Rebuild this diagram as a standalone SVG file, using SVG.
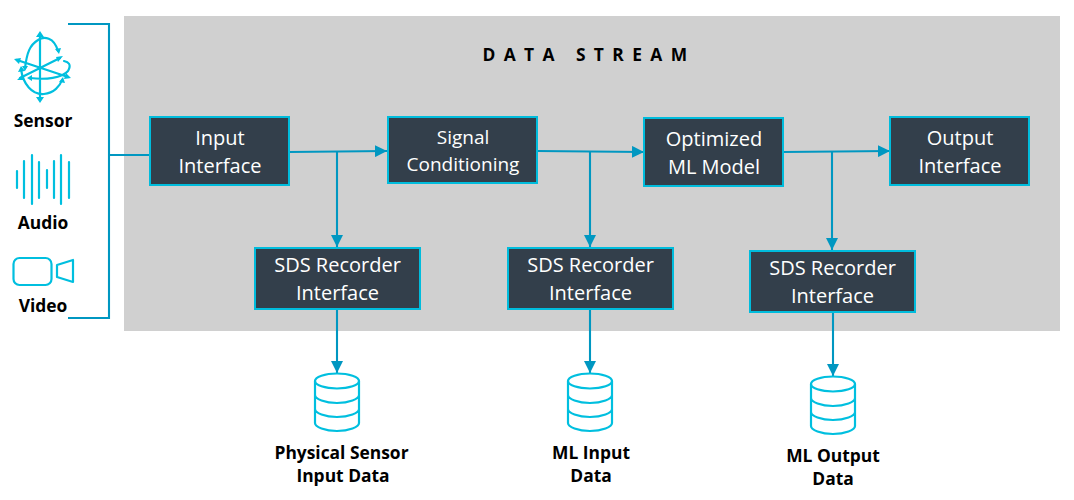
<svg xmlns="http://www.w3.org/2000/svg" width="1074" height="500" viewBox="0 0 1074 500">
<style>
text{font-family:"Open Sans","Noto Sans",sans-serif;text-anchor:middle}
.box{fill:#333f4b;stroke:#00bcdc;stroke-width:2}
.n{fill:#fff;font-size:20px}
.n2{fill:#fff;font-size:19px}
.l{fill:#000;font-size:17.4px;font-weight:700}
.c{fill:none;stroke:#0097c1;stroke-width:2.1}
.i{fill:none;stroke:#00bfdf;stroke-width:2.2;stroke-linecap:round;stroke-linejoin:round}
.ia{fill:#00bfdf}
</style>
<defs>
<marker id="a" markerUnits="userSpaceOnUse" markerWidth="13" markerHeight="12" refX="12" refY="6" orient="auto"><path d="M0 0L12 6L0 12Z" fill="#0097c1"/></marker>
<g id="db" class="i"><ellipse cx="0" cy="8" rx="22" ry="7.500"/><path d="M-22 8V50C-22 54-12 58 0 58S22 54 22 50V8M-22 22C-22 26-12 30 0 30S22 26 22 22M-22 36C-22 40-12 44 0 44S22 40 22 36"/></g>
</defs>
<rect id="stream" x="124" y="16" width="936" height="315" fill="#d0d0d0"/>
<text x="589" y="61" font-size="17.400" font-weight="700" letter-spacing="8.400" fill="#000">DATA STREAM</text>
<g id="connectors">
<path class="c" d="M68 24H109V318H68M109 155H150"/>
<path class="c" marker-end="url(#a)" d="M289 152L387 151"/>
<path class="c" marker-end="url(#a)" d="M537 151L644 152"/>
<path class="c" marker-end="url(#a)" d="M783 152L890 151"/>
<path class="c" marker-end="url(#a)" d="M337 152V247"/>
<path class="c" marker-end="url(#a)" d="M590 152V247"/>
<path class="c" marker-end="url(#a)" d="M832 152V250"/>
<path class="c" marker-end="url(#a)" d="M337 309V373"/>
<path class="c" marker-end="url(#a)" d="M590 309V373"/>
<path class="c" marker-end="url(#a)" d="M833 312V376"/>
</g>
<g id="sensor">
<g class="i">
<path d="M40 34V100M17 60L68 77M20 78L60 58M30 78C46 80 62 78 68 71C72 64 68 62 64 61"/>
<path d="M58 51C54 37 44 36 38 40C30 45 27 52 25 68M21 69C23 84 32 95 44 94C54 93 60 86 62 80"/>
</g>
<path class="ia" d="M40 31L44 37H36ZM40 103L36 97H44ZM14 59L21 58L19 64ZM71 78L64 79L66 73ZM17 80L22 75L24 80ZM63 56L58 62L56 57ZM27 78L32 75V81ZM59 54L55 49L61 48ZM25 71L22 66L28 66ZM21 66L25 71L18 72ZM63 77L59 82L65 83Z"/>
<text class="l" x="43" y="127">Sensor</text>
</g>
<g id="audio">
<path class="i" d="M17 171V188M24 161V198M32 155V204M39 162V198M47 170V188M54 161V198M61 155V204M69 162V198"/>
<text class="l" x="43" y="229">Audio</text>
</g>
<g id="video">
<rect class="i" x="13.500" y="258" width="38" height="27" rx="6"/>
<path class="i" d="M57 265L73 260V282L57 277Z"/>
<text class="l" x="43" y="312">Video</text>
</g>
<g id="input"><rect class="box" x="150" y="117" width="139" height="68"/><text class="n" x="220" y="145">Input</text><text class="n" x="220" y="173">Interface</text></g>
<g id="signal"><rect class="box" x="388" y="117" width="149" height="66"/><text class="n2" x="463" y="144">Signal</text><text class="n2" x="463" y="171">Conditioning</text></g>
<g id="model"><rect class="box" x="644" y="118" width="139" height="68"/><text class="n" x="714" y="146">Optimized</text><text class="n" x="714" y="174">ML Model</text></g>
<g id="output"><rect class="box" x="890" y="117" width="139" height="68"/><text class="n" x="960" y="145">Output</text><text class="n" x="960" y="173">Interface</text></g>
<g id="sds1"><rect class="box" x="255" y="248" width="165" height="61"/><text class="n" x="337.500" y="272">SDS Recorder</text><text class="n" x="337.500" y="300">Interface</text></g>
<g id="sds2"><rect class="box" x="508" y="248" width="165" height="61"/><text class="n" x="590.500" y="272">SDS Recorder</text><text class="n" x="590.500" y="300">Interface</text></g>
<g id="sds3"><rect class="box" x="750" y="251" width="165" height="61"/><text class="n" x="832.500" y="275">SDS Recorder</text><text class="n" x="832.500" y="303">Interface</text></g>
<g id="store1"><use href="#db" x="337" y="373"/><text class="l" x="341.500" y="459">Physical Sensor</text><text class="l" x="343" y="482">Input Data</text></g>
<g id="store2"><use href="#db" x="590" y="373"/><text class="l" x="591" y="459">ML Input</text><text class="l" x="591" y="482">Data</text></g>
<g id="store3"><use href="#db" x="833" y="376"/><text class="l" x="833" y="462">ML Output</text><text class="l" x="833" y="485">Data</text></g>
</svg>
